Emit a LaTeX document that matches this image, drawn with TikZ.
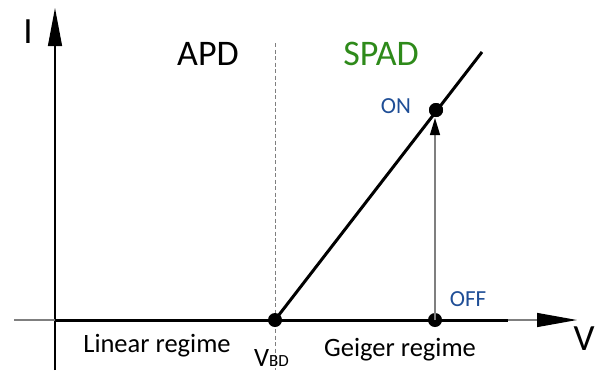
\documentclass[tikz,border=0pt]{standalone}
\usepackage{fontspec}
\setmainfont{Carlito}
\usetikzlibrary{arrows.meta}
\definecolor{onoffblue}{HTML}{1F4E96}
\definecolor{spadgreen}{HTML}{2E8A1A}
\definecolor{axisgray}{HTML}{7F7F7F}
\tikzset{
  lbl/.style={inner sep=0pt, anchor=base},
  axisline/.style={line width=1.3pt, black},
  thick curve/.style={line width=3pt, black},
  thinline/.style={line width=1.3pt, axisgray},
  dot/.style={circle, fill=black, inner sep=0pt, minimum size=14pt},
  big/.style={font=\fontsize{37}{40}\selectfont},
  head/.style={font=\fontsize{36}{40}\selectfont},
  regime/.style={font=\fontsize{26.5}{30}\selectfont},
  state/.style={font=\fontsize{23}{26}\selectfont, text=onoffblue},
}
\begin{document}
\begin{tikzpicture}[x=1pt,y=-1pt]
  \useasboundingbox (0,0) rectangle (602,370);
  % reference points
  \coordinate (origin) at (55,320);
  \coordinate (ybottom) at (55,370);
  \coordinate (ytop) at (55,8);
  \coordinate (xleft) at (14,320);
  \coordinate (xright) at (577,320);
  \coordinate (xend) at (508,320);
  \coordinate (dtop) at (275,43);
  \coordinate (dbottom) at (275,370);
  \coordinate (ltop) at (482,52);
  % dashed breakdown line
  \draw[axisgray, line width=1pt, dash pattern=on 4pt off 2.5pt] (dtop) -- (dbottom);
  % axes
  \draw[axisline, -{Triangle[length=38pt,width=14pt]}] (ybottom) -- (ytop);
  \draw[thinline, -{Triangle[length=40pt,width=14pt,color=black]}] (xleft) -- (xright);
  \draw[thick curve] (origin) -- (xend);
  % breakdown and operating points
  \node[dot] (vbd) at (275,320) {};
  \node[dot] (off) at (435,320) {};
  \node[dot] (on) at (436,110) {};
  \draw[thick curve] (vbd.center) -- (ltop);
  \draw[thinline, -{Triangle[length=17pt,width=10pt,color=black]}] (off.center) -- (435,118) coordinate (ontip);
  \node[dot] at (on) {};
  % labels
  \node[lbl, big] (ilabel) at (28,43) {I};
  \node[lbl, big] (vlabel) at (584,350) {V};
  \node[lbl, head] (apd) at (208,65) {APD};
  \node[lbl, head, text=spadgreen] (spad) at (381,65) {SPAD};
  \node[lbl, state] (onlabel) at (396,113) {ON};
  \node[lbl, state] (offlabel) at (468,306) {OFF};
  \node[lbl, regime] (linear) at (157,352) {Linear regime};
  \node[lbl, regime] (geiger) at (400,356) {Geiger regime};
  \node[inner sep=0pt, anchor=base west, regime] (vbdlabel) at (254,366) {V{\fontsize{17}{20}\selectfont BD}};
\end{tikzpicture}
\end{document}
